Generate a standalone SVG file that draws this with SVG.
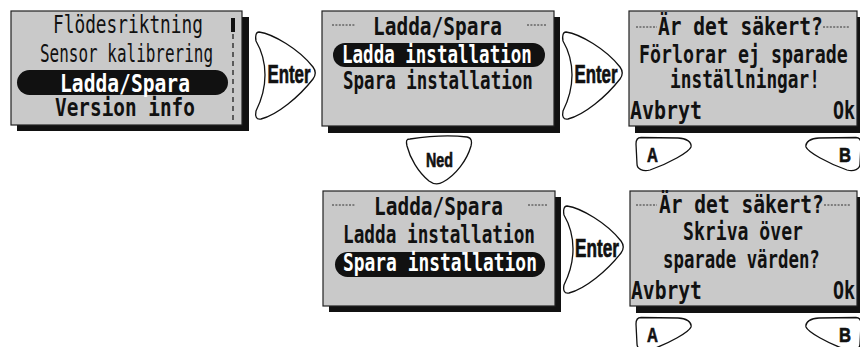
<svg xmlns="http://www.w3.org/2000/svg" width="860" height="347" viewBox="0 0 860 347">
<defs>
<style>
.scr{fill:#c9c9c9;stroke:#222;stroke-width:1.2}
.shd{fill:#111}
.t{font-family:"DejaVu Sans Mono","Liberation Mono",monospace;font-size:25px;font-weight:bold;fill:#111}
.tl{font-weight:normal}
.w{fill:#fff}
.pill{fill:#111}
.btn{fill:#fff;stroke:#111;stroke-width:1.3;stroke-linejoin:round}
.bt{font-family:"Liberation Sans",Arial,sans-serif;font-weight:bold;fill:#111;stroke:#111;stroke-width:0.7}
.dash{stroke:#333;stroke-width:1;stroke-dasharray:2 1.4}
</style>
<path id="enter" d="M4,1 C18,3 44,18 58,36 C61,40 61,44 58,48 C44,66 22,84 6,88 C1,89 0,85 1,80 C8,66 10,56 10,44 C10,32 8,22 1,10 C0,5 1,1 4,1 Z"/>
<path id="abtn" d="M641,137.5 L678,138 C686,138 692,142 691,147 C689,152 670,163 650,170 C643,172 637,169 637,164 L636,144 C636,140 638,137.5 641,137.5 Z"/>
</defs>

<g id="screen-menu">
<rect class="shd" x="17" y="17" width="232" height="114"/>
<rect class="scr" x="11" y="11" width="231" height="114"/>
<rect x="231" y="18" width="4" height="14" fill="#111"/>
<line x1="233" y1="34" x2="233" y2="121" stroke="#111" stroke-width="1.2" stroke-dasharray="5 4"/>
<text class="t tl" transform="translate(53,33) scale(0.712,1)">Flödesriktning</text>
<text class="t tl" transform="translate(40,62) scale(0.639,1)">Sensor kalibrering</text>
<rect class="pill" x="17" y="70" width="211" height="25" rx="12.5"/>
<text class="t w" transform="translate(60,92) scale(0.785,1)">Ladda/Spara</text>
<text class="t" transform="translate(55,116) scale(0.775,1)">Version info</text>
</g>

<g id="screen-ladda">
<rect class="shd" x="328" y="17" width="232" height="116"/>
<rect class="scr" x="322" y="11" width="232" height="115"/>
<line class="dash" x1="332" y1="25" x2="355" y2="25"/>
<line class="dash" x1="527" y1="25" x2="547" y2="25"/>
<text class="t" transform="translate(373,35) scale(0.779,1)">Ladda/Spara</text>
<rect class="pill" x="333" y="43" width="212" height="24" rx="12"/>
<text class="t w" transform="translate(342,63) scale(0.701,1)">Ladda installation</text>
<text class="t" transform="translate(343,89) scale(0.701,1)">Spara installation</text>
</g>

<g id="screen-confirm-load">
<rect class="shd" x="635" y="17" width="230" height="116"/>
<rect class="scr" x="629" y="11" width="228" height="115"/>
<line class="dash" x1="636" y1="27" x2="657" y2="27"/>
<line class="dash" x1="823" y1="27" x2="850" y2="27"/>
<text class="t" transform="translate(658,35) scale(0.783,1)">Är det säkert?</text>
<text class="t" transform="translate(639,63) scale(0.731,1)">Förlorar ej sparade</text>
<text class="t" transform="translate(670,88) scale(0.712,1)">inställningar!</text>
<text class="t" transform="translate(630,119) scale(0.797,1)">Avbryt</text>
<text class="t" transform="translate(833,119) scale(0.731,1)">Ok</text>
</g>

<g id="screen-spara">
<rect class="shd" x="329" y="197" width="232" height="115"/>
<rect class="scr" x="323" y="191" width="232" height="115"/>
<line class="dash" x1="332" y1="205" x2="355" y2="205"/>
<line class="dash" x1="528" y1="205" x2="547" y2="205"/>
<text class="t" transform="translate(374,215) scale(0.779,1)">Ladda/Spara</text>
<text class="t" transform="translate(343,243) scale(0.709,1)">Ladda installation</text>
<rect class="pill" x="335" y="252" width="210" height="25" rx="12.5"/>
<text class="t w" transform="translate(343,271) scale(0.716,1)">Spara installation</text>
</g>

<g id="screen-confirm-save">
<rect class="shd" x="636" y="197" width="230" height="116"/>
<rect class="scr" x="630" y="191" width="227" height="115"/>
<line class="dash" x1="636" y1="205" x2="657" y2="205"/>
<line class="dash" x1="824" y1="205" x2="850" y2="205"/>
<text class="t" transform="translate(659,213) scale(0.783,1)">Är det säkert?</text>
<text class="t" transform="translate(683,240) scale(0.725,1)">Skriva över</text>
<text class="t" transform="translate(663,268) scale(0.695,1)">sparade värden?</text>
<text class="t" transform="translate(631,299) scale(0.786,1)">Avbryt</text>
<text class="t" transform="translate(833,299) scale(0.731,1)">Ok</text>
</g>

<g id="connectors">
<g id="btn-enter-1" transform="translate(255,31)">
<use href="#enter" class="btn"/>
<text class="bt" font-size="26" transform="translate(12.5,52) scale(0.647,1)">Enter</text>
</g>
<g id="btn-enter-2" transform="translate(562,31)">
<use href="#enter" class="btn"/>
<text class="bt" font-size="26" transform="translate(12.5,52) scale(0.647,1)">Enter</text>
</g>
<g id="btn-enter-3" transform="translate(563,205)">
<use href="#enter" class="btn"/>
<text class="bt" font-size="26" transform="translate(12,52) scale(0.66,1)">Enter</text>
</g>
<g id="btn-ned">
<path class="btn" d="M410,139 C430,136 450,135 467,137 C472,138 472,142 471,146 C467,160 456,175 443,182 C438,185 433,184 429,181 C418,172 410,158 407,146 C406,141 406,139 410,139 Z"/>
<text class="bt" font-size="21" transform="translate(426,167) scale(0.68,1)">Ned</text>
</g>
<g id="btn-a-1">
<use href="#abtn" class="btn"/>
<text class="bt" font-size="21" transform="translate(647,162) scale(0.72,1)">A</text>
</g>
<g id="btn-b-1">
<use href="#abtn" class="btn" transform="translate(1497,0) scale(-1,1)"/>
<text class="bt" font-size="21" transform="translate(839,162) scale(0.79,1)">B</text>
</g>
<g id="btn-a-2" transform="translate(0,180)">
<use href="#abtn" class="btn"/>
<text class="bt" font-size="21" transform="translate(647,162) scale(0.72,1)">A</text>
</g>
<g id="btn-b-2" transform="translate(0,180)">
<use href="#abtn" class="btn" transform="translate(1497,0) scale(-1,1)"/>
<text class="bt" font-size="21" transform="translate(839,162) scale(0.79,1)">B</text>
</g>
</g>
</svg>
